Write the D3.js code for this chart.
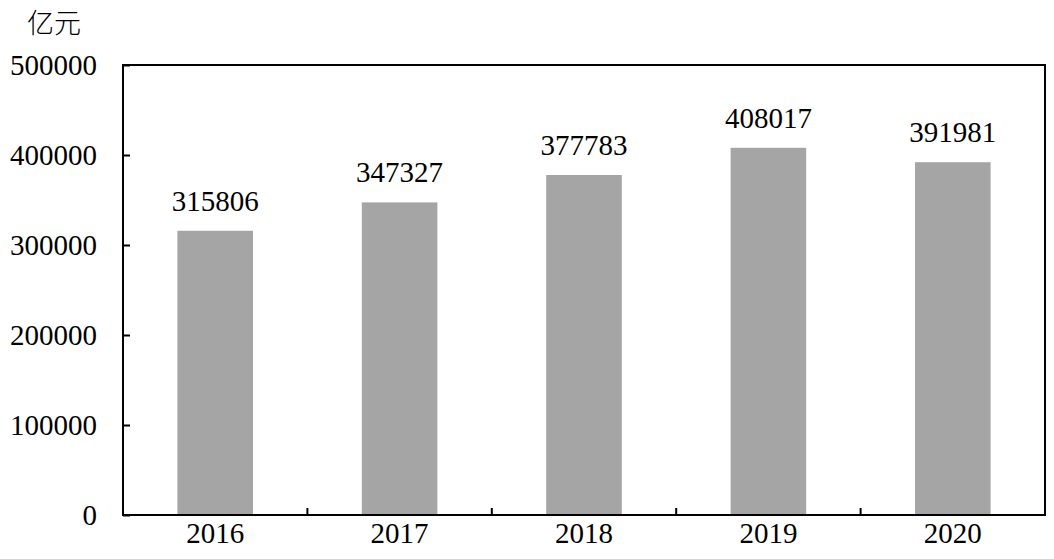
<!DOCTYPE html>
<html><head><meta charset="utf-8">
<script src="https://cdn.jsdelivr.net/npm/d3@7"></script>
<style>body{margin:0;background:#fff}svg{display:block}
.sf{font-family:"Liberation Serif","DejaVu Serif","Noto Serif",serif}</style>
</head><body>
<svg id="c" width="1054" height="559"></svg>
<script>
const years = ["2016","2017","2018","2019","2020"];
const values = [315806, 347327, 377783, 408017, 391981];
const yTicks = [0,100000,200000,300000,400000,500000];
const unitLabel = "亿元";

const svg = d3.select("#c");
const m = {l:123, r:1045, t:65, b:515};
const FS = 29;
const x = d3.scaleBand().domain(years).range([m.l, m.r]).paddingInner(0.59).paddingOuter(0.295);
const xb = d3.scaleBand().domain(years).range([m.l, m.r]);
const y = d3.scaleLinear().domain([0,500000]).range([m.b, m.t]);

svg.selectAll("rect.bar").data(values).join("rect").attr("class","bar")
  .attr("x",(d,i)=>x(years[i])).attr("width",x.bandwidth())
  .attr("y",d=>y(d)).attr("height",d=>y(0)-y(d)).attr("fill","#a5a5a5");

svg.selectAll("text.lbl").data(values).join("text").attr("class","lbl sf")
  .attr("x",(d,i)=>x(years[i])+x.bandwidth()/2).attr("y",d=>y(d)-20)
  .attr("text-anchor","middle").style("font-size",FS+"px").attr("fill","#000")
  .text(d=>d);

// frame
svg.append("rect").attr("x",m.l).attr("y",m.t).attr("width",m.r-m.l).attr("height",m.b-m.t)
  .attr("fill","none").attr("stroke","#000").attr("stroke-width",2);

// y axis
const ya = svg.append("g").attr("transform",`translate(${m.l},0)`)
  .call(d3.axisLeft(y).tickValues(yTicks).tickSize(-7).tickPadding(26).tickFormat(d3.format("d")));
ya.attr("font-family",null).attr("font-size",null);
ya.select(".domain").remove();
ya.selectAll("line").attr("stroke","#000").attr("stroke-width",2);
ya.selectAll("text").attr("class","sf").style("font-size",FS+"px").attr("fill","#000");

// x axis: ticks at category boundaries
const bounds = years.slice(1).map(d=>xb(d));
svg.selectAll("line.xt").data(bounds).join("line").attr("class","xt")
  .attr("x1",d=>d).attr("x2",d=>d).attr("y1",m.b).attr("y2",m.b-7)
  .attr("stroke","#000").attr("stroke-width",2);
const xa = svg.append("g").attr("transform",`translate(0,${m.b})`)
  .call(d3.axisBottom(xb).tickSize(0).tickPadding(7));
xa.attr("font-family",null).attr("font-size",null);
xa.select(".domain").remove();
xa.selectAll("text").attr("class","sf").style("font-size",FS+"px").attr("fill","#000");

svg.append("text").attr("x",54).attr("y",33).attr("text-anchor","middle")
  .attr("font-family","'Noto Sans CJK SC',sans-serif").attr("font-weight",300).attr("font-size",27).attr("fill","#000")
  .text(unitLabel);
</script>
</body></html>
